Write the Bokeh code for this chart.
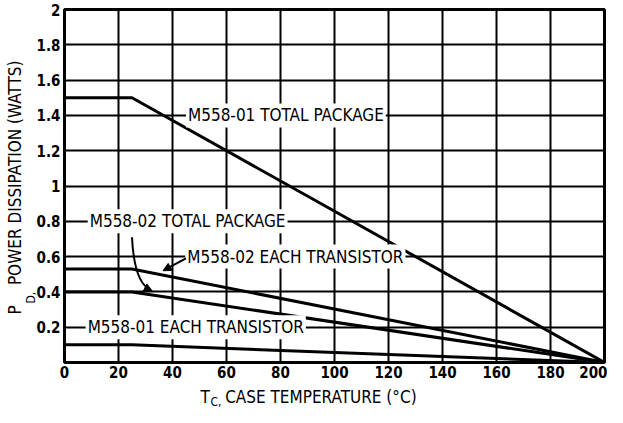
from bokeh.plotting import figure
from bokeh.models import Range1d, FixedTicker, Label, Arrow, NormalHead, Title
from bokeh.embed import file_html
from bokeh.resources import INLINE

# ---- data ----
temp_c = [0, 25, 200]
m558_01_total = [1.5, 1.5, 0.0]
m558_02_upper = [0.53, 0.53, 0.0]
m558_02_lower = [0.40, 0.40, 0.0]
m558_01_each = [0.10, 0.10, 0.0]

x_ticks = [0, 20, 40, 60, 80, 100, 120, 140, 160, 180, 200]
x_tick_labels = ["0", "20", "40", "60", "80", "100", "120", "140", "160", "180", "200"]
y_ticks = [0.2, 0.4, 0.6, 0.8, 1.0, 1.2, 1.4, 1.6, 1.8, 2.0]
y_tick_labels = ["0.2", "0.4", "0.6", "0.8", "1", "1.2", "1.4", "1.6", "1.8", "2"]

curve_labels = ["M558-01 TOTAL PACKAGE", "M558-02 TOTAL PACKAGE",
                "M558-02 EACH TRANSISTOR", "M558-01 EACH TRANSISTOR"]
label_x = [82.0, 45.6, 85.5, 48.6]
label_y = [1.4, 0.8, 0.6, 0.2]

FONT = "DejaVu Sans Condensed"

p = figure(width=607, height=407, x_range=Range1d(0, 200), y_range=Range1d(0, 2),
           output_backend="svg", toolbar_location=None,
           min_border_left=64, min_border_right=3, min_border_top=9, min_border_bottom=45)

p.outline_line_color = "black"
p.outline_line_width = 3
p.background_fill_color = "white"
p.border_fill_color = "white"

for ax, ticks, labels in ((p.xaxis[0], x_ticks, x_tick_labels), (p.yaxis[0], y_ticks, y_tick_labels)):
    ax.ticker = FixedTicker(ticks=ticks)
    ax.major_label_overrides = dict(zip(ticks, labels))
    ax.axis_line_color = None
    ax.major_tick_line_color = None
    ax.minor_tick_line_color = None
    ax.major_tick_out = 0
    ax.major_tick_in = 0
    ax.minor_tick_out = 0
    ax.major_label_text_font = FONT
    ax.major_label_text_font_style = "bold"
    ax.major_label_text_font_size = "15px"
    ax.major_label_text_color = "black"
p.xaxis.major_label_standoff = 3
p.yaxis.major_label_standoff = 4

p.xgrid.ticker = FixedTicker(ticks=x_ticks)
p.ygrid.ticker = FixedTicker(ticks=y_ticks)
for g in (p.xgrid[0], p.ygrid[0]):
    g.grid_line_color = "black"
    g.grid_line_width = 2
    g.grid_line_alpha = 1.0

for series in (m558_01_total, m558_02_upper, m558_02_lower, m558_01_each):
    p.line(temp_c, series, line_color="black", line_width=3)

for txt, lx, ly in zip(curve_labels, label_x, label_y):
    p.add_layout(Label(x=lx, y=ly, text=txt, text_align="center", text_baseline="middle",
                       text_font=FONT, text_font_size="17px", text_color="black",
                       background_fill_color="white", padding=2))

# arrow: M558-02 TOTAL PACKAGE -> lower curve
p.bezier(x0=[25.0], y0=[0.71], x1=[32.0], y1=[0.41], cx0=[25.5], cy0=[0.55],
         cx1=[27.5], cy1=[0.44], line_color="black", line_width=2)
p.add_layout(Arrow(end=NormalHead(size=8, fill_color="black", line_color="black"),
                   x_start=30.5, y_start=0.42, x_end=32.5, y_end=0.405,
                   line_color="black", line_width=2))
# arrow: M558-02 EACH TRANSISTOR -> upper curve
p.add_layout(Arrow(end=NormalHead(size=8, fill_color="black", line_color="black"),
                   x_start=45.0, y_start=0.59, x_end=36.5, y_end=0.52,
                   line_color="black", line_width=2))

# ---- axis titles (side-panel titles; subscripts as separate titles) ----
def title(text, size, align_offset, standoff, valign):
    return Title(text=text, align="left", offset=align_offset, standoff=standoff,
                 vertical_align=valign, text_font=FONT, text_font_size=size,
                 text_font_style="normal", text_color="black")

# left: [yaxis, subscript, main]
p.add_layout(title("D,", "12px", 59, -11.6, "top"), "left")
p.add_layout(title("P\u2003 POWER DISSIPATION (WATTS)", "17px", 48, 4.7, "top"), "left")

# below: [xaxis, spacer, main (zero size), subscript]
p.add_layout(Title(text=" ", text_font_size="1px", standoff=13), "below")
p.add_layout(title("T\u2003CASE TEMPERATURE (°C)", "17px", 136, -21.8, "bottom"), "below")
p.add_layout(title("C,", "12px", 146, -8, "bottom"), "below")

open("out.html", "w").write(file_html(p, INLINE))
